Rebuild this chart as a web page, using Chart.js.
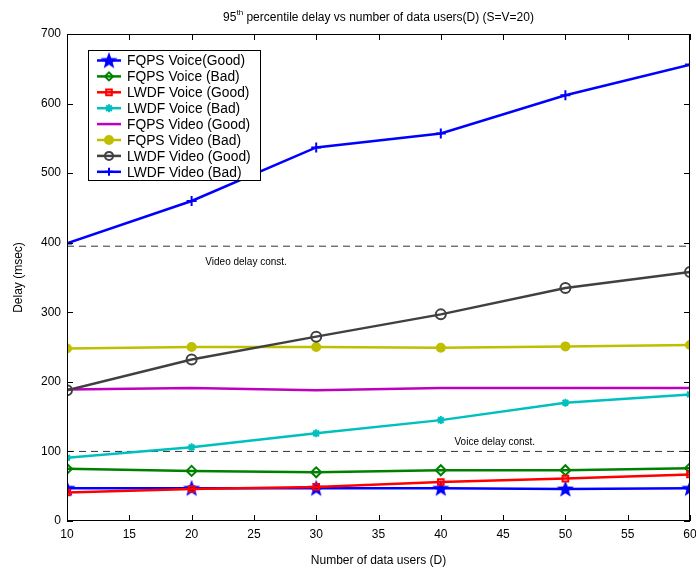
<!DOCTYPE html>
<html>
<head>
<meta charset="utf-8">
<script src="https://cdn.jsdelivr.net/npm/chart.js@4.4.1/dist/chart.umd.min.js"></script>
<style>
  body { margin: 0; background: #fff; }
  canvas { display: block; }
</style>
</head>
<body>
<canvas id="delayChart" width="696" height="571"></canvas>
<script>
"use strict";

const users = [10, 20, 30, 40, 50, 60];

const fqpsVoiceGood = [47, 47, 47, 47, 46, 47];
const fqpsVoiceBad = [75, 72, 70, 73, 73, 76];
const lwdfVoiceGood = [41, 46, 49, 56, 61, 67];
const lwdfVoiceBad = [91, 106, 126, 145, 170, 182];
const fqpsVideoGood = [189, 191, 188, 191, 191, 191];
const fqpsVideoBad = [248, 250, 250, 249, 251, 253];
const lwdfVideoGood = [188, 232, 265, 297, 335, 358];
const lwdfVideoBad = [399, 460, 537, 557, 612, 656];

const voiceLimit = 100;
const videoLimit = 395;

const seriesNames = [
  "FQPS Voice(Good)",
  "FQPS Voice (Bad)",
  "LWDF Voice (Good)",
  "LWDF Voice (Bad)",
  "FQPS Video (Good)",
  "FQPS Video (Bad)",
  "LWDF Video (Good)",
  "LWDF Video (Bad)",
];

const FONT = "'Liberation Sans', Arial, Helvetica, sans-serif";

// filled five point star for the first series
function makeStar(size, color) {
  const c = document.createElement("canvas");
  c.width = size;
  c.height = size;
  const ctx = c.getContext("2d");
  const cx = size / 2, cy = size / 2 + 0.5;
  const outer = size / 2, inner = outer * 0.42;
  ctx.beginPath();
  for (let i = 0; i < 10; i++) {
    const r = i % 2 === 0 ? outer : inner;
    const a = -Math.PI / 2 + (i * Math.PI) / 5;
    ctx.lineTo(cx + r * Math.cos(a), cy + r * Math.sin(a));
  }
  ctx.closePath();
  ctx.fillStyle = color;
  ctx.fill();
  return c;
}
const starImg = makeStar(18, "#0000ff");

function toPoints(values) {
  return values.map((v, i) => ({ x: users[i], y: v }));
}

function series(name, values, color, style, radius, fill) {
  return {
    label: name,
    data: toPoints(values),
    borderColor: color,
    backgroundColor: color,
    borderWidth: 2.5,
    pointStyle: style,
    pointRadius: radius,
    pointBorderColor: color,
    pointBackgroundColor: fill,
    pointBorderWidth: 2,
    tension: 0,
  };
}

function limitLine(value) {
  return {
    label: "limit",
    data: [{ x: 10, y: value }, { x: 60, y: value }],
    borderColor: "#333333",
    borderWidth: 1,
    borderDash: [7, 5],
    pointRadius: 0,
    order: 20,
  };
}

const datasets = [
  series(seriesNames[0], fqpsVoiceGood, "#0000ff", starImg, 8, "#0000ff"),
  series(seriesNames[1], fqpsVoiceBad, "#008000", "rectRot", 5, "rgba(0,0,0,0)"),
  series(seriesNames[2], lwdfVoiceGood, "#ff0000", "rect", 4, "rgba(0,0,0,0)"),
  series(seriesNames[3], lwdfVoiceBad, "#00bfbf", "star", 4, "#00bfbf"),
  series(seriesNames[4], fqpsVideoGood, "#bf00bf", "circle", 0, "#bf00bf"),
  series(seriesNames[5], fqpsVideoBad, "#bfbf00", "circle", 4, "#bfbf00"),
  series(seriesNames[6], lwdfVideoGood, "#404040", "circle", 5, "rgba(0,0,0,0)"),
  series(seriesNames[7], lwdfVideoBad, "#0000ff", "cross", 5, "#0000ff"),
];
// later series drawn on top
datasets.forEach((d, i) => { d.order = 10 - i; });
datasets.push(limitLine(voiceLimit));
datasets.push(limitLine(videoLimit));

const decorPlugin = {
  id: "decor",
  afterDraw(chart) {
    const ctx = chart.ctx;
    const area = chart.chartArea;
    const xs = chart.scales.x;
    const ys = chart.scales.y;
    ctx.save();

    // frame and inward ticks on all sides
    ctx.strokeStyle = "#000";
    ctx.lineWidth = 1;
    ctx.strokeRect(area.left + 0.5, area.top + 0.5, area.right - area.left - 1, area.bottom - area.top - 1);
    ctx.beginPath();
    for (let v = 10; v <= 60; v += 5) {
      const px = Math.round(xs.getPixelForValue(v)) + 0.5;
      ctx.moveTo(px, area.bottom);
      ctx.lineTo(px, area.bottom - 6);
      ctx.moveTo(px, area.top);
      ctx.lineTo(px, area.top + 6);
    }
    for (let v = 0; v <= 700; v += 100) {
      const py = Math.round(ys.getPixelForValue(v)) + 0.5;
      ctx.moveTo(area.left, py);
      ctx.lineTo(area.left + 6, py);
      ctx.moveTo(area.right, py);
      ctx.lineTo(area.right - 6, py);
    }
    ctx.stroke();

    // title with superscript
    ctx.fillStyle = "#000";
    ctx.textBaseline = "alphabetic";
    const cx = (area.left + area.right) / 2;
    const part1 = "95";
    const sup = "th";
    const part2 = " percentile delay vs number of data users(D) (S=V=20)";
    ctx.font = "12px " + FONT;
    const w1 = ctx.measureText(part1).width;
    const w3 = ctx.measureText(part2).width;
    ctx.font = "8px " + FONT;
    const w2 = ctx.measureText(sup).width;
    let tx = cx - (w1 + w2 + w3) / 2;
    ctx.textAlign = "left";
    ctx.font = "12px " + FONT;
    ctx.fillText(part1, tx, 21);
    ctx.font = "8px " + FONT;
    ctx.fillText(sup, tx + w1, 15);
    ctx.font = "12px " + FONT;
    ctx.fillText(part2, tx + w1 + w2, 21);

    // axis titles
    ctx.textAlign = "center";
    ctx.fillText("Number of data users (D)", cx, 564);
    ctx.save();
    ctx.translate(22, (area.top + area.bottom) / 2);
    ctx.rotate(-Math.PI / 2);
    ctx.fillText("Delay (msec)", 0, 0);
    ctx.restore();

    // constraint labels
    ctx.font = "10px " + FONT;
    ctx.textAlign = "left";
    ctx.textBaseline = "middle";
    ctx.fillText("Video delay const.", xs.getPixelForValue(21.1), ys.getPixelForValue(372));
    ctx.fillText("Voice delay const.", xs.getPixelForValue(41.1), ys.getPixelForValue(113));

    // legend box inside plot
    const lx = 88, ly = 50, lw = 172, lh = 130;
    ctx.fillStyle = "#fff";
    ctx.fillRect(lx, ly, lw, lh);
    ctx.strokeStyle = "#000";
    ctx.lineWidth = 1;
    ctx.strokeRect(lx + 0.5, ly + 0.5, lw, lh);
    const rowH = 15.9;
    ctx.font = "13.8px " + FONT;
    for (let i = 0; i < seriesNames.length; i++) {
      const d = chart.data.datasets[i];
      const y = ly + 10.5 + i * rowH;
      ctx.strokeStyle = d.borderColor;
      ctx.lineWidth = 2.5;
      ctx.beginPath();
      ctx.moveTo(lx + 9, y);
      ctx.lineTo(lx + 33, y);
      ctx.stroke();
      if (d.pointRadius > 0) {
        ctx.strokeStyle = d.pointBorderColor;
        ctx.fillStyle = d.pointBackgroundColor;
        ctx.lineWidth = 2;
        Chart.helpers.drawPoint(ctx, {
          pointStyle: d.pointStyle,
          radius: Math.min(d.pointRadius, 4),
          rotation: 0,
          borderWidth: 2,
        }, lx + 21, y);
      }
      ctx.fillStyle = "#000";
      ctx.fillText(seriesNames[i], lx + 39, y + 1);
    }
    ctx.restore();
  },
};

const config = {
  type: "line",
  data: { datasets: datasets },
  options: {
    responsive: false,
    animation: false,
    layout: { autoPadding: false, padding: { top: 34, right: 6, left: 0, bottom: 0 } },
    plugins: {
      legend: { display: false },
      title: { display: false },
      tooltip: { enabled: false },
    },
    scales: {
      x: {
        type: "linear",
        min: 10,
        max: 60,
        grid: { display: false, drawTicks: false },
        border: { display: false },
        ticks: { stepSize: 5, color: "#000", font: { family: FONT, size: 12 }, padding: 6, maxRotation: 0 },
        afterFit(scale) {
          scale.height = 50;
          scale.paddingLeft = 0;
          scale.paddingRight = 0;
        },
      },
      y: {
        min: 0,
        max: 700,
        grid: { display: false, drawTicks: false },
        border: { display: false },
        ticks: { stepSize: 100, color: "#000", font: { family: FONT, size: 12 }, padding: 6 },
        afterFit(scale) {
          scale.width = 67;
          scale.paddingTop = 0;
          scale.paddingBottom = 0;
        },
      },
    },
  },
  plugins: [decorPlugin],
};

const delayChart = new Chart(document.getElementById("delayChart"), config);
</script>
</body>
</html>
